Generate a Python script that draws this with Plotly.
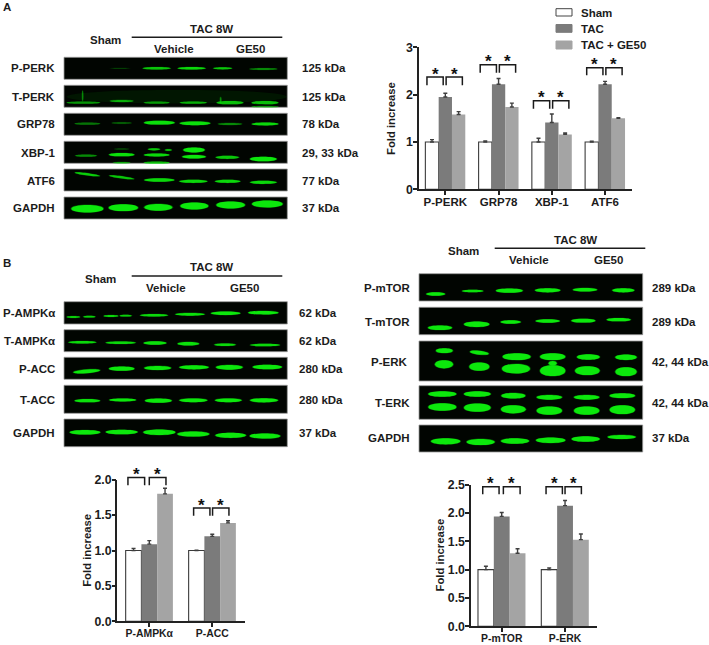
import plotly.graph_objects as go

# ---------- data ----------
SERIES = ["Sham", "TAC", "TAC + GE50"]

a_categories = ["P-PERK", "GRP78", "XBP-1", "ATF6"]
a_sham = [1.0, 1.0, 1.0, 1.0]
a_tac = [1.95, 2.22, 1.41, 2.22]
a_ge50 = [1.58, 1.74, 1.16, 1.50]
a_sham_err = [0.05, 0.02, 0.08, 0.015]
a_tac_err = [0.08, 0.12, 0.18, 0.06]
a_ge50_err = [0.06, 0.08, 0.03, 0.015]
a_ticks = [0, 1, 2, 3]

b_categories = ["P-AMPKα", "P-ACC"]
b_sham = [1.0, 1.0]
b_tac = [1.09, 1.20]
b_ge50 = [1.80, 1.39]
b_sham_err = [0.03, 0.005]
b_tac_err = [0.05, 0.03]
b_ge50_err = [0.08, 0.03]
b_ticks = [0.0, 0.5, 1.0, 1.5, 2.0]

c_categories = ["P-mTOR", "P-ERK"]
c_sham = [1.0, 1.0]
c_tac = [1.94, 2.13]
c_ge50 = [1.29, 1.53]
c_sham_err = [0.06, 0.03]
c_tac_err = [0.07, 0.09]
c_ge50_err = [0.08, 0.10]
c_ticks = [0.0, 0.5, 1.0, 1.5, 2.0, 2.5]

# significance bracket levels (top, foot) per category
a_bracket_top = [2.37, 2.63, 1.87, 2.57]
a_bracket_foot = [2.20, 2.46, 1.70, 2.41]
b_bracket_top = [2.03, 1.60]
b_bracket_foot = [1.92, 1.49]
c_bracket_top = [2.465, 2.465]
c_bracket_foot = [2.33, 2.33]

W, H = 709, 645
FONT = "Liberation Sans"
INK = "#1c1c1c"
GREEN = "#0ce80c"
C_TAC = "#7b7b7b"
C_GE = "#a4a4a4"

fig = go.Figure()
shapes, annotations = [], []
xp = lambda v: v / W
yp = lambda v: 1 - v / H


def text(x, y, s, size=11.5, anchor="center", angle=0):
    annotations.append(dict(x=xp(x), y=yp(y), xref="paper", yref="paper", text=s, showarrow=False,
                            xanchor=anchor, yanchor="middle", textangle=angle, borderpad=0,
                            font=dict(family=FONT, size=size, color=INK, weight="bold")))


def band(ox, oy, cx, cy, w, h, alpha=1.0, tilt=0):
    """Draw one rounded blot band; arguments are in 3x crop units relative to (ox, oy)."""
    def one(grow_w, grow_h, a):
        c, m, hw, hh, t = ox + cx / 3, oy + cy / 3, w / 3 + grow_w, h / 3 + grow_h, tilt / 3
        xl, xr = c - hw, c + hw
        yl, yr = m - t, m + t
        d = hh * 0.667
        ins = hw * 0.02
        p = (f"M {xp(xl):.5f} {yp(yl):.5f} "
             f"C {xp(xl + ins):.5f} {yp(yl - d):.5f} {xp(xr - ins):.5f} {yp(yr - d):.5f} {xp(xr):.5f} {yp(yr):.5f} "
             f"C {xp(xr - ins):.5f} {yp(yr + d):.5f} {xp(xl + ins):.5f} {yp(yl + d):.5f} {xp(xl):.5f} {yp(yl):.5f} Z")
        shapes.append(dict(type="path", path=p, xref="paper", yref="paper", fillcolor=GREEN,
                           opacity=a, line=dict(width=0), layer="below"))
    one(0.8, 0.8, 0.35 * alpha)
    one(0, 0.2, alpha)


def blot(x0, x1, y0, y1):
    shapes.append(dict(type="rect", xref="paper", yref="paper", x0=xp(x0), x1=xp(x1), y0=yp(y0), y1=yp(y1),
                       fillcolor="#010501", line=dict(color="#9a9a9a", width=0.8), layer="below"))


def panel(x0, x1, rows, ox, oy):
    for y0, y1, bands in rows:
        blot(x0, x1, y0, y1)
        for b in bands:
            band(ox, oy, *b)


def header(sham, tac, x0, x1, yline, vehicle, ge50):
    text(*sham, "Sham")
    text(*tac, "TAC 8W")
    shapes.append(dict(type="line", xref="paper", yref="paper", x0=xp(x0), x1=xp(x1), y0=yp(yline), y1=yp(yline),
                       line=dict(color=INK, width=1.6)))
    text(*vehicle, "Vehicle")
    text(*ge50, "GE50")


def labels(rows):
    for rx, y, name, kx, kda in rows:
        text(rx, y, name, anchor="right")
        text(kx, y, kda, anchor="left")


# ---------- panel A blots ----------
panel(64, 287.3, [
    (57.3, 79.3, [(360, 205, 30, 2, .25), (470, 205, 42, 7, .8), (575, 205, 42, 7, .9), (668, 205, 28, 6, .8),
                  (790, 207, 42, 5, .5)]),
    (85.3, 107.3, [(530, 290, 330, 40, .06), (250, 308, 50, 6, .55), (365, 303, 35, 6, .65), (470, 308, 38, 6, .55),
                   (580, 308, 40, 6, .65), (690, 308, 40, 9, .75), (795, 308, 40, 9, .75), (795, 320, 40, 4, .5),
                   (248, 288, 1.5, 32, .55), (662, 300, 2, 18, .5)]),
    (113.3, 135.3, [(262, 371, 38, 6, .4), (365, 369, 30, 5, .3), (478, 368, 46, 11, .95), (585, 370, 46, 11, .95),
                    (690, 372, 36, 6, .5), (795, 372, 40, 8, .9)]),
    (141.3, 163.3, [(258, 467, 32, 6, .5), (365, 464, 38, 9, .95), (365, 447, 22, 3, .3), (365, 488, 25, 4, .6),
                    (470, 465, 38, 8, .9), (462, 448, 18, 6, .8), (505, 450, 10, 5, .7), (470, 488, 38, 6, .7),
                    (582, 450, 32, 14, 1), (582, 470, 35, 10, 1), (682, 472, 35, 9, .8), (790, 477, 40, 13, 1)]),
    (169, 191, [(262, 523, 37, 6, .85, 5), (365, 532, 37, 6, .8, 5), (478, 540, 45, 10, .9), (580, 544, 42, 9, .9),
                (683, 544, 38, 9, .9), (790, 547, 40, 9, .9)]),
    (197, 219, [(262, 626, 48, 22, 1), (370, 623, 44, 20, 1), (475, 622, 42, 20, 1), (583, 618, 42, 20, 1),
                (692, 615, 43, 20, 1), (802, 612, 46, 20, 1)]),
], 0, 0)
header((106, 40), (212, 29), 131.7, 282.3, 37.3, (174.3, 49), (250, 49))
text(2, 7, "A", anchor="left")
labels([(56, 68, "P-PERK", 300.7, "125 kDa"), (56, 97, "T-PERK", 300.7, "125 kDa"),
        (56, 124, "GRP78", 300.7, "78 kDa"), (56, 153, "XBP-1", 300.7, "29, 33 kDa"),
        (56, 181, "ATF6", 300.7, "77 kDa"), (56, 207.5, "GAPDH", 300.7, "37 kDa")])

# ---------- panel B left blots ----------
panel(64, 287.3, [
    (301.7, 324, [(220, 201, 20, 5, .85), (268, 200, 18, 5, .85), (333, 198, 22, 5, .9), (377, 197, 18, 5, .85),
                  (462, 196, 42, 7, .9), (570, 193, 44, 8, .95), (677, 190, 44, 10, 1), (790, 188, 45, 10, 1)]),
    (329.7, 351.7, [(247, 277, 42, 7, .9), (362, 278, 45, 7, .9), (465, 279, 34, 10, .95), (565, 281, 32, 10, .95),
                    (675, 284, 32, 7, .9), (795, 285, 45, 7, .9)]),
    (357.3, 379.3, [(260, 364, 40, 11, 1, -3), (365, 356, 38, 12, 1), (473, 354, 40, 12, 1), (582, 352, 44, 12, 1),
                    (688, 352, 40, 14, 1), (802, 351, 44, 13, 1)]),
    (385.3, 413.3, [(262, 452, 38, 9, .95), (368, 450, 40, 8, 1), (475, 452, 40, 12, 1), (580, 451, 42, 11, 1),
                    (685, 451, 40, 11, 1), (792, 451, 42, 12, 1)]),
    (419, 446.7, [(255, 547, 46, 13, 1), (365, 546, 48, 13, 1), (478, 547, 48, 16, 1), (580, 552, 48, 15, 1),
                  (692, 556, 46, 15, 1), (795, 558, 46, 15, 1)]),
], 0, 250)
header((100.3, 279), (212, 267.3), 131.7, 282.3, 276, (165.7, 287.7), (244.3, 287.7))
text(2, 262.7, "B", anchor="left")
labels([(56, 313.3, "P-AMPKα", 298.3, "62 kDa"), (56, 341, "T-AMPKα", 298.3, "62 kDa"),
        (56, 369, "P-ACC", 298.3, "280 kDa"), (56, 400, "T-ACC", 298.3, "280 kDa"),
        (56, 433.3, "GAPDH", 298.3, "37 kDa")])

# ---------- panel B right blots ----------
panel(419, 642.7, [
    (273.7, 301, [(227, 207, 28, 10, 1), (338, 198, 32, 7, .95), (448, 197, 40, 12, 1), (563, 196, 38, 12, 1),
                  (675, 194, 36, 10, 1), (790, 196, 33, 12, 1)]),
    (307.3, 334.7, [(240, 308, 36, 13, 1), (350, 298, 38, 16, 1), (452, 291, 30, 10, 1), (563, 288, 36, 10, 1),
                    (670, 287, 36, 11, 1), (776, 284, 36, 9, 1)]),
    (341, 381, [(253, 377, 25, 14, 1), (252, 418, 27, 24, 1), (358, 383, 28, 11, 1, 3), (358, 425, 30, 24, 1),
                (470, 395, 42, 20, 1), (468, 431, 42, 28, 1), (578, 395, 38, 20, 1), (578, 437, 38, 32, 1),
                (578, 415, 12, 14, 1), (685, 396, 34, 16, 1), (682, 437, 37, 26, 1), (798, 397, 32, 16, 1),
                (798, 440, 32, 26, 1)]),
    (385.7, 419.3, [(247, 507, 42, 16, 1), (247, 546, 42, 22, 1), (352, 507, 40, 16, 1), (352, 548, 40, 24, 1),
                    (460, 512, 36, 16, 1), (460, 553, 37, 24, 1), (568, 517, 38, 14, 1), (568, 557, 38, 24, 1),
                    (680, 517, 38, 14, 1), (680, 557, 38, 24, 1), (787, 512, 38, 14, 1), (787, 554, 38, 26, 1)]),
    (425, 452, [(257, 649, 44, 18, 1), (362, 651, 42, 18, 1), (465, 648, 42, 16, 1), (572, 646, 44, 16, 1),
                (677, 642, 42, 16, 1), (785, 636, 42, 12, 1)]),
], 360, 225)
header((463.7, 250.7), (575, 240), 494.7, 645.3, 248.3, (529, 260), (608, 260))
labels([(411, 288.3, "P-mTOR", 651, "289 kDa"), (411, 321.7, "T-mTOR", 651, "289 kDa"),
        (407.7, 361.7, "P-ERK", 651, "42, 44 kDa"), (411, 403.3, "T-ERK", 651, "42, 44 kDa"),
        (411, 438.3, "GAPDH", 651, "37 kDa")])

# ---------- legend of panel A ----------
for (y0, y1, fill, line, name) in [(8.7, 16, "white", "#444444", SERIES[0]), (24.5, 32.3, C_TAC, C_TAC, SERIES[1]),
                                   (41, 49, C_GE, C_GE, SERIES[2])]:
    shapes.append(dict(type="rect", xref="paper", yref="paper", x0=xp(556), x1=xp(572), y0=yp(y0), y1=yp(y1),
                       fillcolor=fill, line=dict(color=line, width=1)))
    text(580, (y0 + y1) / 2 + 0.3, name, anchor="left")


# ---------- bar charts ----------
def chart(idx, cats, vals, errs, ticks, tops, foots, offs, xdom, ydom, xrange, yrange, tickfmt, cat_size, title_off):
    xa, ya = f"x{idx}", f"y{idx}"
    # hidden twin axes with the same scale, taller, so the brackets can rise above the visible axis
    xb, yb = f"x{idx + 3}", f"y{idx + 3}"
    xs = list(range(len(cats)))
    fills = ["white", C_TAC, C_GE]
    for name, v, e, fill in zip(SERIES, vals, errs, fills):
        fig.add_trace(go.Bar(x=xs, y=v, name=name, xaxis=xa, yaxis=ya, showlegend=False, marker_color=fill,
                             marker_line=dict(color="#3a3a3a" if fill == "white" else fill,
                                              width=1.1 if fill == "white" else 0),
                             error_y=dict(type="data", symmetric=False, array=e, arrayminus=[0] * len(e),
                                          color="#3f3f3f", thickness=1.4, width=2)))
    extra = 1.2
    bx, by = [], []
    for i, x in enumerate(xs):
        o = offs[i]
        for a, b in ((o[0], o[1]), (o[2], o[3])):
            bx += [x + a, x + a, x + b, x + b, None]
            by += [foots[i], tops[i], tops[i], foots[i], None]
            annotations.append(dict(x=x + (a + b) / 2, y=tops[i], xref=xb, yref=yb, text="*", showarrow=False,
                                    yanchor="middle", yshift=3,
                                    font=dict(family=FONT, size=17, color="#111111", weight="bold")))
    fig.add_trace(go.Scatter(x=bx, y=by, xaxis=xb, yaxis=yb, mode="lines", showlegend=False,
                             hoverinfo="skip", line=dict(color="#1a1a1a", width=1.5)))
    suffix = "" if idx == 1 else str(idx)
    axis_line = dict(showline=True, linecolor="#222222", linewidth=1.6, ticks="outside", ticklen=3.5,
                     tickwidth=1.5, tickcolor="#222222", showgrid=False, zeroline=False, automargin=False,
                     ticklabelstandoff=-2)
    fig.update_layout({
        f"xaxis{suffix}": dict(domain=[xp(xdom[0]), xp(xdom[1])], anchor=ya, range=xrange, tickmode="array",
                               tickvals=xs, ticktext=cats,
                               tickfont=dict(family=FONT, size=cat_size, color=INK, weight="bold"), **axis_line),
        f"yaxis{suffix}": dict(domain=[yp(ydom[1]), yp(ydom[0])], anchor=xa, range=yrange, tickmode="array",
                               tickvals=ticks, ticktext=[tickfmt.format(t) for t in ticks],
                               tickfont=dict(family=FONT, size=12.3, color=INK, weight="bold"), **axis_line),
        f"xaxis{idx + 3}": dict(domain=[xp(xdom[0]), xp(xdom[1])], anchor=yb, range=xrange, visible=False,
                                automargin=False),
        f"yaxis{idx + 3}": dict(domain=[yp(ydom[1]), yp(ydom[1] - (ydom[1] - ydom[0]) * extra)],
                                anchor=xb, range=[0, yrange[1] * extra], visible=False, automargin=False),
    })
    text(xdom[0] - title_off, (ydom[0] + ydom[1]) / 2, "Fold increase", size=11.3, angle=-90)


a_off = [(-.345, -.04, .015, .32)] * 4
b_off = [(-.339, -.074, 0, .265), (-.296, -.037, .005, .265)]
c_off = [(-.30, -.042, .026, .29), (-.30, -.042, 0, .258)]

chart(1, a_categories, [a_sham, a_tac, a_ge50], [a_sham_err, a_tac_err, a_ge50_err], a_ticks,
      a_bracket_top, a_bracket_foot, a_off, (418.7, 631.7), (47.3, 189.3), [-.5, 3.5], [0, 3], "{:d}", 11.5, 27)
chart(2, b_categories, [b_sham, b_tac, b_ge50], [b_sham_err, b_tac_err, b_ge50_err], b_ticks,
      b_bracket_top, b_bracket_foot, b_off, (117.3, 245), (479.7, 621.3), [-.508, 1.52], [0, 2], "{:.1f}", 10.4, 31)
chart(3, c_categories, [c_sham, c_tac, c_ge50], [c_sham_err, c_tac_err, c_ge50_err], c_ticks,
      c_bracket_top, c_bracket_foot, c_off, (470.7, 596.7), (484.7, 626.3), [-.49, 1.5], [0, 2.5], "{:.1f}", 10.4, 31.7)

fig.update_layout(width=W, height=H, autosize=False, margin=dict(l=0, r=0, t=0, b=0), paper_bgcolor="white",
                  plot_bgcolor="rgba(0,0,0,0)", barmode="group", bargap=0.25, bargroupgap=0, showlegend=False,
                  shapes=shapes, annotations=annotations)

fig.write_html("out.html", config=dict(displayModeBar=False),
               post_script="document.body.style.margin='0';")
